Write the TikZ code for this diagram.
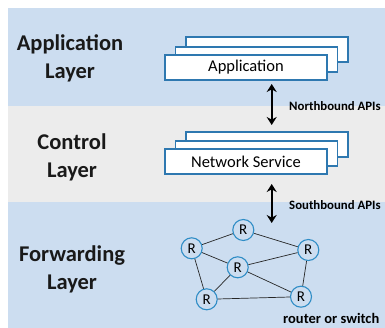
\documentclass[tikz,border=0pt]{standalone}
\usepackage{fontspec}
\setmainfont{Carlito}
\usetikzlibrary{arrows.meta}
\definecolor{bandblue}{HTML}{CCDDF0}
\definecolor{bandgrey}{HTML}{ECECEC}
\definecolor{edgeblue}{HTML}{2E78B0}
\definecolor{rblue}{HTML}{2F8DC6}
\begin{document}
\begin{tikzpicture}[x=1pt,y=-1pt,
  layerlabel/.style={font=\fontsize{22.5}{28}\selectfont\bfseries, align=center, text=black!90},
  stackbox/.style={draw=edgeblue, line width=1.1pt, fill=white, minimum width=162pt, minimum height=25pt, inner sep=0pt, font=\fontsize{16.5}{18}\selectfont},
  router/.style={circle, draw=rblue, line width=1.1pt, fill=bandblue, minimum size=21pt, inner sep=0pt, font=\fontsize{15}{16}\selectfont},
  apilabel/.style={font=\fontsize{12.8}{15}\selectfont\bfseries, anchor=west, inner sep=0pt},
  link/.style={line width=0.7pt, black!85},
  apiarrow/.style={line width=2.2pt, {Stealth[length=8pt,width=10pt]}-{Stealth[length=8pt,width=10pt]}}
]
\useasboundingbox (0,0) rectangle (385,328);
\fill[white] (0,0) rectangle (385,328);
% bands
\fill[bandblue] (8,8) rectangle (385,106);
\fill[bandgrey] (8,106) rectangle (385,202);
\fill[bandblue] (8,202) rectangle (385,328);
% layer labels
\node[layerlabel] (applbl) at (70,58) {Application\\Layer};
\node[layerlabel] (ctllbl) at (72,157) {Control\\Layer};
\node[layerlabel] (fwdlbl) at (72,269) {Forwarding\\Layer};
% application stack
\node[stackbox] (app3) at (267,49.5) {};
\node[stackbox] (app2) at (256.5,59.5) {};
\node[stackbox] (app1) at (246,67.5) {Application};
% network service stack
\node[stackbox] (ns3) at (267,144.5) {};
\node[stackbox] (ns2) at (256.5,153.5) {};
\node[stackbox] (ns1) at (246,161.5) {Network Service};
% arrows
\coordinate (nbtop) at (271.7,84);
\coordinate (nbbot) at (271.7,125);
\coordinate (sbtop) at (271.7,184);
\coordinate (sbbot) at (271.7,223);
\draw[apiarrow] (nbtop) -- (nbbot);
\draw[apiarrow] (sbtop) -- (sbbot);
\node[apilabel] (nblbl) at (289,106) {Northbound APIs};
\node[apilabel] (sblbl) at (289,205) {Southbound APIs};
% routers
\node[router] (r1) at (191.7,248.3) {R};
\node[router] (r2) at (243.3,230) {R};
\node[router] (r3) at (308.3,250) {R};
\node[router] (r4) at (237.7,267.3) {R};
\node[router] (r5) at (206.7,299.3) {R};
\node[router] (r6) at (301,296.7) {R};
\draw[link] (r1) -- (r2);
\draw[link] (r2) -- (r3);
\draw[link] (r1) -- (r4);
\draw[link] (r4) -- (r3);
\draw[link] (r1) -- (r5);
\draw[link] (r4) -- (r5);
\draw[link] (r4) -- (r6);
\draw[link] (r3) -- (r6);
\draw[link] (r5) -- (r6);
\node[apilabel, font=\fontsize{14.5}{16}\selectfont\bfseries] (rslbl) at (283,318) {router or switch};
\end{tikzpicture}
\end{document}
